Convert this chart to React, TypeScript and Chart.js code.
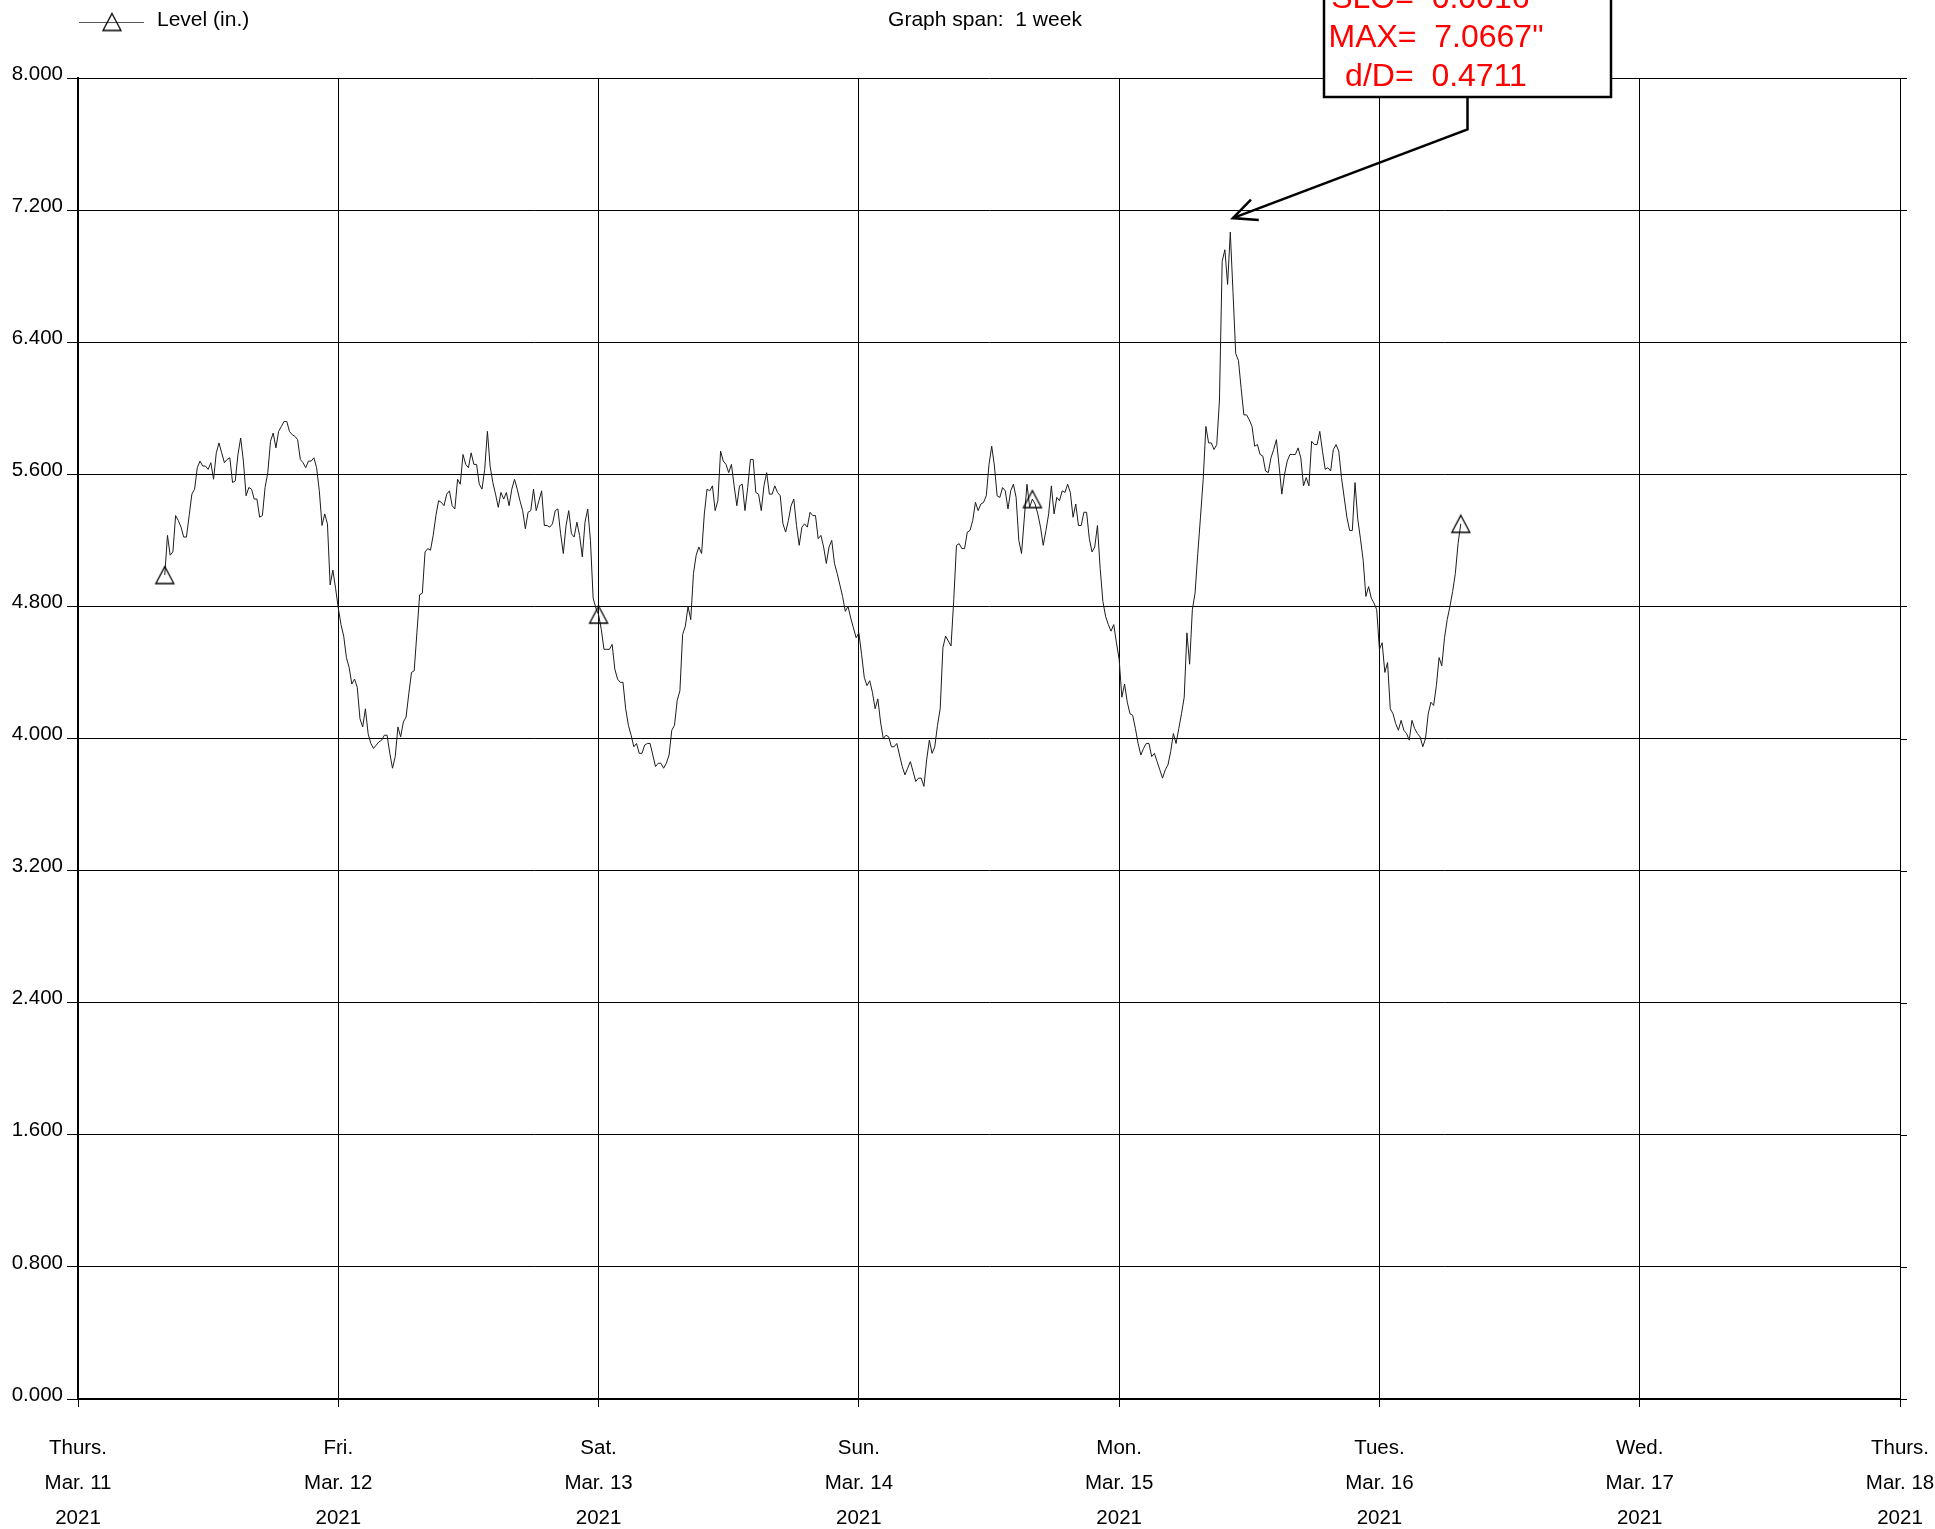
import React, { useEffect, useRef } from 'react';
import { Chart, registerables } from 'chart.js';

Chart.register(...registerables);

// ---- axis labels ----
const DAY_NAMES = ['Thurs.', 'Fri.', 'Sat.', 'Sun.', 'Mon.', 'Tues.', 'Wed.', 'Thurs.'];
const DAY_DATES = ['Mar. 11', 'Mar. 12', 'Mar. 13', 'Mar. 14', 'Mar. 15', 'Mar. 16', 'Mar. 17', 'Mar. 18'];
const DAY_YEARS = ['2021', '2021', '2021', '2021', '2021', '2021', '2021', '2021'];
const Y_MIN = 0;
const Y_MAX = 8;
const Y_STEP = 0.8;
const SPAN_DAYS = 7;

// ---- sampling ----
const SERIES_START_HOUR = 8; // first reading, Thurs. Mar. 11 08:00
const SAMPLE_MINUTES = 15;
const MARKER_EVERY = 160;

// ---- flow level readings (in.), 15-minute samples ----
const LEVEL_MAR11 = [
  4.99, 5.23, 5.11, 5.13, 5.35, 5.32, 5.28, 5.22, 5.22, 5.35,
  5.48, 5.51, 5.64, 5.68, 5.65, 5.65, 5.63, 5.67, 5.57, 5.73,
  5.79, 5.73, 5.67, 5.69, 5.70, 5.55, 5.56, 5.72, 5.82, 5.68,
  5.47, 5.52, 5.51, 5.45, 5.45, 5.34, 5.35, 5.52, 5.61, 5.80,
  5.85, 5.76, 5.86, 5.89, 5.92, 5.92, 5.86, 5.84, 5.83, 5.81,
  5.69, 5.67, 5.64, 5.68, 5.68, 5.70, 5.64, 5.50, 5.29, 5.36,
  5.30, 4.93, 5.02, 4.91,
];
const LEVEL_MAR12 = [
  4.79, 4.69, 4.62, 4.49, 4.43, 4.33, 4.36, 4.31, 4.12, 4.07,
  4.18, 4.03, 3.97, 3.94, 3.96, 3.98, 3.99, 4.02, 4.02, 3.91,
  3.82, 3.89, 4.07, 4.01, 4.10, 4.13, 4.27, 4.40, 4.41, 4.64,
  4.87, 4.88, 5.13, 5.15, 5.14, 5.23, 5.35, 5.44, 5.43, 5.41,
  5.48, 5.50, 5.41, 5.39, 5.57, 5.54, 5.72, 5.66, 5.64, 5.73,
  5.66, 5.66, 5.54, 5.51, 5.63, 5.86, 5.65, 5.55, 5.48, 5.40,
  5.49, 5.45, 5.49, 5.41, 5.51, 5.57, 5.51, 5.44, 5.38, 5.27,
  5.37, 5.38, 5.51, 5.38, 5.44, 5.50, 5.29, 5.29, 5.28, 5.30,
  5.38, 5.39, 5.24, 5.12, 5.29, 5.38, 5.24, 5.22, 5.31, 5.23,
  5.10, 5.31, 5.39, 5.20, 4.85, 4.79,
];
const LEVEL_MAR13 = [
  4.75, 4.66, 4.54, 4.54, 4.54, 4.57, 4.42, 4.36, 4.34, 4.34,
  4.18, 4.08, 4.02, 3.95, 3.97, 3.91, 3.91, 3.96, 3.97, 3.97,
  3.90, 3.83, 3.85, 3.85, 3.82, 3.85, 3.90, 4.05, 4.08, 4.23,
  4.29, 4.63, 4.68, 4.80, 4.72, 5.00, 5.11, 5.16, 5.12, 5.36,
  5.51, 5.50, 5.53, 5.38, 5.44, 5.74, 5.68, 5.66, 5.61, 5.66,
  5.53, 5.41, 5.53, 5.54, 5.38, 5.52, 5.69, 5.69, 5.49, 5.48,
  5.38, 5.53, 5.61, 5.48, 5.48, 5.53, 5.49, 5.47, 5.30, 5.25,
  5.32, 5.41, 5.45, 5.29, 5.17, 5.28, 5.30, 5.28, 5.37, 5.35,
  5.35, 5.21, 5.23, 5.16, 5.06, 5.16, 5.20, 5.06, 5.00, 4.93,
  4.86, 4.77, 4.80, 4.73, 4.67, 4.61,
];
const LEVEL_MAR14 = [
  4.64, 4.51, 4.37, 4.32, 4.35, 4.28, 4.18, 4.24, 4.10, 4.00,
  4.02, 4.01, 3.95, 3.95, 3.97, 3.90, 3.83, 3.78, 3.82, 3.86,
  3.80, 3.74, 3.76, 3.76, 3.71, 3.87, 3.99, 3.91, 3.95, 4.08,
  4.18, 4.55, 4.62, 4.59, 4.56, 4.84, 5.17, 5.18, 5.15, 5.15,
  5.25, 5.26, 5.32, 5.43, 5.38, 5.42, 5.43, 5.47, 5.66, 5.77,
  5.65, 5.47, 5.46, 5.52, 5.50, 5.39, 5.50, 5.54, 5.46, 5.20,
  5.12, 5.33, 5.54, 5.40, 5.45, 5.42, 5.36, 5.28, 5.17, 5.26,
  5.36, 5.53, 5.36, 5.46, 5.44, 5.50, 5.49, 5.54, 5.49, 5.34,
  5.42, 5.29, 5.29, 5.37, 5.37, 5.21, 5.13, 5.16, 5.29, 5.03,
  4.83, 4.74, 4.69, 4.65, 4.69, 4.58,
];
const LEVEL_MAR15 = [
  4.48, 4.25, 4.33, 4.22, 4.15, 4.14, 4.06, 3.97, 3.90, 3.94,
  3.97, 3.97, 3.89, 3.91, 3.86, 3.81, 3.76, 3.81, 3.84, 3.92,
  4.03, 3.97, 4.06, 4.15, 4.25, 4.64, 4.45, 4.78, 4.88, 5.12,
  5.34, 5.57, 5.89, 5.79, 5.79, 5.75, 5.78, 6.05, 6.89, 6.96,
  6.75, 7.0667, 6.70, 6.33, 6.29, 6.12, 5.96, 5.96, 5.93, 5.89,
  5.77, 5.78, 5.72, 5.71, 5.62, 5.61, 5.70, 5.75, 5.81, 5.65,
  5.48, 5.60, 5.68, 5.72, 5.72, 5.72, 5.76, 5.70, 5.53, 5.58,
  5.53, 5.80, 5.78, 5.78, 5.86, 5.74, 5.63, 5.64, 5.62, 5.75,
  5.78, 5.74, 5.58, 5.46, 5.34, 5.26, 5.26, 5.55, 5.33, 5.21,
  5.08, 4.86, 4.92, 4.85, 4.82, 4.78,
];
const LEVEL_MAR16 = [
  4.54, 4.58, 4.40, 4.46, 4.18, 4.15, 4.09, 4.05, 4.11, 4.05,
  4.03, 3.99, 4.11, 4.06, 4.03, 4.01, 3.95, 4.00, 4.15, 4.22,
  4.20, 4.32, 4.49, 4.44, 4.61, 4.72, 4.80, 4.89, 5.00, 5.18,
  5.30,
];

// ---- site summary ----
const SLOPE = 0.0016;
const PIPE_DIAMETER_IN = 15;

const SERIES_LABEL = 'Level (in.)';
const SPAN_TEXT = 'Graph span:  1 week';

const FONT = '"Liberation Sans", Arial, Helvetica, sans-serif';

const LEVEL = [
  ...LEVEL_MAR11,
  ...LEVEL_MAR12,
  ...LEVEL_MAR13,
  ...LEVEL_MAR14,
  ...LEVEL_MAR15,
  ...LEVEL_MAR16,
];

// Open triangle marker, its bounding box centred on the reading.
function makeTriangleMarker(w: number, h: number, lw: number): HTMLCanvasElement {
  const c = document.createElement('canvas');
  c.width = Math.ceil(w + 4);
  c.height = Math.ceil(h + 4);
  const ctx = c.getContext('2d') as CanvasRenderingContext2D;
  const cx = c.width / 2;
  const cy = c.height / 2;
  ctx.strokeStyle = '#000';
  ctx.lineWidth = lw;
  ctx.lineJoin = 'miter';
  ctx.beginPath();
  ctx.moveTo(cx, cy - h / 2);
  ctx.lineTo(cx + w / 2, cy + h / 2);
  ctx.lineTo(cx - w / 2, cy + h / 2);
  ctx.closePath();
  ctx.stroke();
  return c;
}

function makeHeaderPlugin(marker: HTMLCanvasElement) {
  return {
    id: 'header',
    afterDraw(chart: any) {
      const { ctx } = chart;
      ctx.save();
      ctx.strokeStyle = '#555';
      ctx.lineWidth = 1;
      ctx.beginPath();
      ctx.moveTo(79, 22.5);
      ctx.lineTo(144, 22.5);
      ctx.stroke();
      ctx.drawImage(marker, 112 - marker.width / 2, 22 - marker.height / 2);
      ctx.fillStyle = '#000';
      ctx.font = `21px ${FONT}`;
      ctx.textBaseline = 'middle';
      ctx.textAlign = 'left';
      ctx.fillText(SERIES_LABEL, 157, 20);
      ctx.textAlign = 'center';
      ctx.fillText(SPAN_TEXT, 985, 20);

      // short extensions of the level grid past the right edge
      const y = chart.scales.y;
      const right = chart.chartArea.right;
      ctx.strokeStyle = '#000';
      ctx.lineWidth = 1;
      y.ticks.forEach((t: any) => {
        const py = Math.round(y.getPixelForValue(t.value)) + 0.5;
        ctx.beginPath();
        ctx.moveTo(right, py);
        ctx.lineTo(right + 7, py);
        ctx.stroke();
      });
      ctx.restore();
    },
  };
}

const summaryPlugin = {
  id: 'summary',
  afterDraw(chart: any) {
    const { ctx } = chart;
    const xs = chart.scales.x;
    const ys = chart.scales.y;
    let peakIdx = 0;
    LEVEL.forEach((v, i) => {
      if (v > LEVEL[peakIdx]) peakIdx = i;
    });
    const peak = LEVEL[peakIdx];
    const px = xs.getPixelForValue(chart.data.datasets[0].data[peakIdx].x);
    const py = ys.getPixelForValue(peak);

    const box = { left: 1324, right: 1611, top: -30, bottom: 97 };
    const cx = (box.left + box.right) / 2;

    ctx.save();
    // leader with open arrowhead
    const tipX = px + 2.5;
    const tipY = py - 14;
    const bendY = 129.5;
    ctx.strokeStyle = '#000';
    ctx.lineWidth = 2.5;
    ctx.lineJoin = 'miter';
    ctx.beginPath();
    ctx.moveTo(cx, box.bottom);
    ctx.lineTo(cx, bendY);
    ctx.lineTo(tipX, tipY);
    ctx.stroke();
    const ang = Math.atan2(bendY - tipY, cx - tipX);
    const wing = 26;
    const spread = (25 * Math.PI) / 180;
    ctx.beginPath();
    ctx.moveTo(tipX + wing * Math.cos(ang - spread), tipY + wing * Math.sin(ang - spread));
    ctx.lineTo(tipX, tipY);
    ctx.lineTo(tipX + wing * Math.cos(ang + spread), tipY + wing * Math.sin(ang + spread));
    ctx.stroke();

    // summary box
    ctx.fillStyle = '#fff';
    ctx.fillRect(box.left, box.top, box.right - box.left, box.bottom - box.top);
    ctx.lineWidth = 2.5;
    ctx.strokeRect(box.left, box.top, box.right - box.left, box.bottom - box.top);

    ctx.fillStyle = '#ff0000';
    ctx.font = `32px ${FONT}`;
    ctx.textAlign = 'center';
    ctx.textBaseline = 'alphabetic';
    const tx = 1436;
    ctx.fillText(`SLO=  ${SLOPE.toFixed(4)}"`, tx, 8);
    ctx.fillText(`MAX=  ${peak.toFixed(4)}"`, tx, 47);
    ctx.fillText(`d/D=  ${(peak / PIPE_DIAMETER_IN).toFixed(4)}`, tx, 86);
    ctx.restore();
  },
};

export default function App() {
  const canvasRef = useRef<HTMLCanvasElement | null>(null);

  useEffect(() => {
    const canvas = canvasRef.current;
    if (!canvas) return;
    const marker = makeTriangleMarker(18, 17, 1.3);
    const last = LEVEL.length - 1;
    const points = LEVEL.map((v, i) => ({
      x: (SERIES_START_HOUR + (i * SAMPLE_MINUTES) / 60) / 24,
      y: v,
    }));
    const isMarker = (i: number) => i % MARKER_EVERY === 0 || i === last;

    const chart = new Chart(canvas, {
      type: 'line',
      data: {
        datasets: [
          {
            label: SERIES_LABEL,
            data: points,
            borderColor: '#1c1c1c',
            borderWidth: 1,
            tension: 0,
            fill: false,
            pointStyle: marker,
            pointRadius: (c: any) => (isMarker(c.dataIndex) ? 9 : 0),
            pointHoverRadius: (c: any) => (isMarker(c.dataIndex) ? 9 : 0),
            pointBorderColor: '#000',
            pointBackgroundColor: 'rgba(0,0,0,0)',
            pointBorderWidth: 1.3,
          },
        ],
      },
      options: {
        responsive: false,
        animation: false,
        devicePixelRatio: 1,
        events: [],
        layout: { padding: { left: 0, top: 78, right: 35, bottom: 0 } },
        plugins: {
          legend: { display: false },
          tooltip: { enabled: false },
          title: { display: false },
        },
        scales: {
          x: {
            type: 'linear',
            min: 0,
            max: SPAN_DAYS,
            position: 'bottom',
            ticks: {
              stepSize: 1,
              autoSkip: false,
              maxRotation: 0,
              padding: 23.5,
              color: '#000',
              font: { family: FONT, size: 20.5, lineHeight: '35px' },
              callback: (_v: any, i: number) => [DAY_NAMES[i], DAY_DATES[i], DAY_YEARS[i]],
            },
            grid: { color: '#000', lineWidth: 1, tickLength: 8 },
            border: { color: '#000', width: 2 },
            afterFit: (s: any) => {
              s.height = 130;
              s.paddingLeft = 0;
              s.paddingRight = 0;
            },
          },
          y: {
            type: 'linear',
            min: Y_MIN,
            max: Y_MAX,
            ticks: {
              stepSize: Y_STEP,
              padding: 4,
              color: '#000',
              font: { family: FONT, size: 20.5, lineHeight: '8px' },
              callback: (v: any) => [Number(v).toFixed(3), ''],
            },
            grid: { color: '#000', lineWidth: 1, tickLength: 11 },
            border: { color: '#000', width: 2 },
            afterFit: (s: any) => {
              s.width = 78;
              s.paddingTop = 0;
              s.paddingBottom = 0;
            },
          },
        },
      } as any,
      plugins: [makeHeaderPlugin(marker), summaryPlugin],
    });

    return () => chart.destroy();
  }, []);

  return (
    <div style={{ position: 'absolute', left: 0, top: 0, width: 1935, height: 1529, background: '#fff' }}>
      <canvas ref={canvasRef} width={1935} height={1529} style={{ display: 'block' }} />
    </div>
  );
}
